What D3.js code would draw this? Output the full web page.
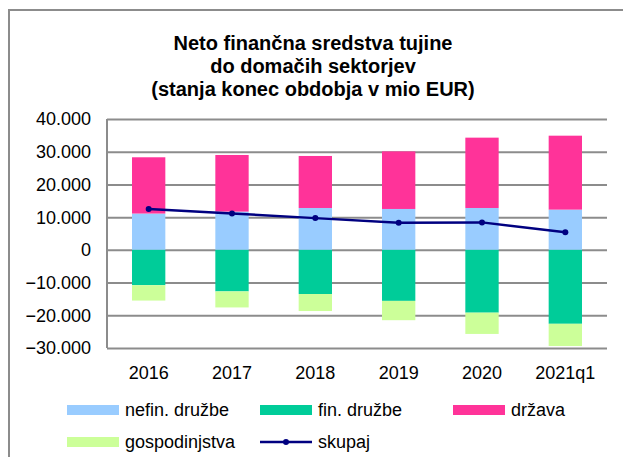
<!DOCTYPE html>
<html>
<head>
<meta charset="utf-8">
<script src="https://cdnjs.cloudflare.com/ajax/libs/d3/7.8.5/d3.min.js"></script>
<style>
  body { margin: 0; background: #fff; }
  svg text { font-family: "Liberation Sans", Arial, sans-serif; fill: #000; }
  .grid line { stroke: #8c8c8c; stroke-width: 2; }
  .grid path { stroke-width: 0; }
</style>
</head>
<body>
<div id="chart"></div>
<script>
// categories and series (mio EUR)
var categories = ["2016", "2017", "2018", "2019", "2020", "2021q1"];
var nefin   = [11100, 11700, 12800, 12500, 12800, 12300];
var fin     = [-10800, -12700, -13500, -15600, -19200, -22600];
var drzava  = [17200, 17300, 15900, 17600, 21500, 22600];
var gosp    = [-4700, -4900, -5200, -5900, -6500, -6800];
var skupaj  = [12500, 11100, 9700, 8300, 8400, 5400];
var yTicks  = [-30000, -20000, -10000, 0, 10000, 20000, 30000, 40000];

var W = 623, H = 457;
var margin = {top: 119, left: 107, right: 16, bottom: 109};
var width = W - margin.left - margin.right,
    height = H - margin.top - margin.bottom;

var svg = d3.select("#chart").append("svg")
  .attr("width", W).attr("height", H);

// outer frame (left + top only visible)
svg.append("path")
  .attr("d", "M9,457 L9,10 L623,10")
  .attr("fill", "none").attr("stroke", "#8c8c8c").attr("stroke-width", 2);

// title
var title = ["Neto finančna sredstva tujine", "do domačih sektorjev", "(stanja konec obdobja v mio EUR)"];
svg.append("g").selectAll("text").data(title).enter().append("text")
  .attr("x", 313).attr("y", function(d, i) { return 50 + i * 23; })
  .attr("text-anchor", "middle")
  .style("font-size", "20px").style("font-weight", "bold")
  .text(function(d) { return d; });

var g = svg.append("g").attr("transform", "translate(" + margin.left + "," + margin.top + ")");

var x = d3.scaleBand().domain(categories).range([0, width]).paddingInner(0.6).paddingOuter(0.3);
var y = d3.scaleLinear().domain([-30000, 40000]).range([height, 0]);

// grid
g.append("g").attr("class", "grid")
  .call(d3.axisLeft(y).tickValues(yTicks).tickSize(-width).tickFormat(""));
g.append("line").attr("x1", 0).attr("x2", 0).attr("y1", 0).attr("y2", height)
  .attr("stroke", "#8c8c8c").attr("stroke-width", 2);

// y labels
var fmt = function(v) { return v === 0 ? "0" : d3.format(",")(v).replace(/,/g, "."); };
g.append("g").selectAll("text").data(yTicks).enter().append("text")
  .attr("x", -16).attr("y", function(d) { return y(d); }).attr("dy", "0.36em")
  .attr("text-anchor", "end").style("font-size", "18px")
  .text(fmt);

// x labels
g.append("g").selectAll("text").data(categories).enter().append("text")
  .attr("x", function(d) { return x(d) + x.bandwidth() / 2; })
  .attr("y", height + 31).attr("text-anchor", "middle").style("font-size", "18px")
  .text(function(d) { return d; });

// stacked bars
var series = [
  {name: "nefin. družbe", vals: nefin, color: "#99ccff"},
  {name: "fin. družbe", vals: fin, color: "#00cc99"},
  {name: "država", vals: drzava, color: "#ff3399"},
  {name: "gospodinjstva", vals: gosp, color: "#ccff99"}
];
var posBase = categories.map(function() { return 0; });
var negBase = categories.map(function() { return 0; });
series.forEach(function(s) {
  var segs = s.vals.map(function(v, i) {
    var y0, y1;
    if (v >= 0) { y0 = posBase[i]; y1 = y0 + v; posBase[i] = y1; }
    else { y0 = negBase[i]; y1 = y0 + v; negBase[i] = y1; }
    return {cat: categories[i], y0: y0, y1: y1};
  });
  g.append("g").selectAll("rect").data(segs).enter().append("rect")
    .attr("x", function(d) { return x(d.cat); })
    .attr("width", x.bandwidth())
    .attr("y", function(d) { return y(Math.max(d.y0, d.y1)); })
    .attr("height", function(d) { return Math.abs(y(d.y0) - y(d.y1)); })
    .attr("fill", s.color);
});

// total line
var line = d3.line()
  .x(function(d, i) { return x(categories[i]) + x.bandwidth() / 2; })
  .y(function(d) { return y(d); });
g.append("path").datum(skupaj).attr("d", line)
  .attr("fill", "none").attr("stroke", "#000080").attr("stroke-width", 2.5);
g.append("g").selectAll("circle").data(skupaj).enter().append("circle")
  .attr("cx", function(d, i) { return x(categories[i]) + x.bandwidth() / 2; })
  .attr("cy", function(d) { return y(d); })
  .attr("r", 3).attr("fill", "#000080");

// legend
var legend = [
  {name: "nefin. družbe", color: "#99ccff", x: 67, y: 410},
  {name: "fin. družbe", color: "#00cc99", x: 260, y: 410},
  {name: "država", color: "#ff3399", x: 453, y: 410},
  {name: "gospodinjstva", color: "#ccff99", x: 67, y: 442},
  {name: "skupaj", color: "#000080", x: 260, y: 442, line: true}
];
legend.forEach(function(l) {
  if (l.line) {
    svg.append("line").attr("x1", l.x).attr("x2", l.x + 52).attr("y1", l.y).attr("y2", l.y)
      .attr("stroke", l.color).attr("stroke-width", 2.5);
    svg.append("circle").attr("cx", l.x + 26).attr("cy", l.y).attr("r", 3).attr("fill", l.color);
  } else {
    svg.append("rect").attr("x", l.x).attr("y", l.y - 5).attr("width", 52).attr("height", 10)
      .attr("fill", l.color);
  }
  svg.append("text").attr("x", l.x + 58).attr("y", l.y).attr("dy", "0.36em")
    .style("font-size", "18px").text(l.name);
});
</script>
</body>
</html>
